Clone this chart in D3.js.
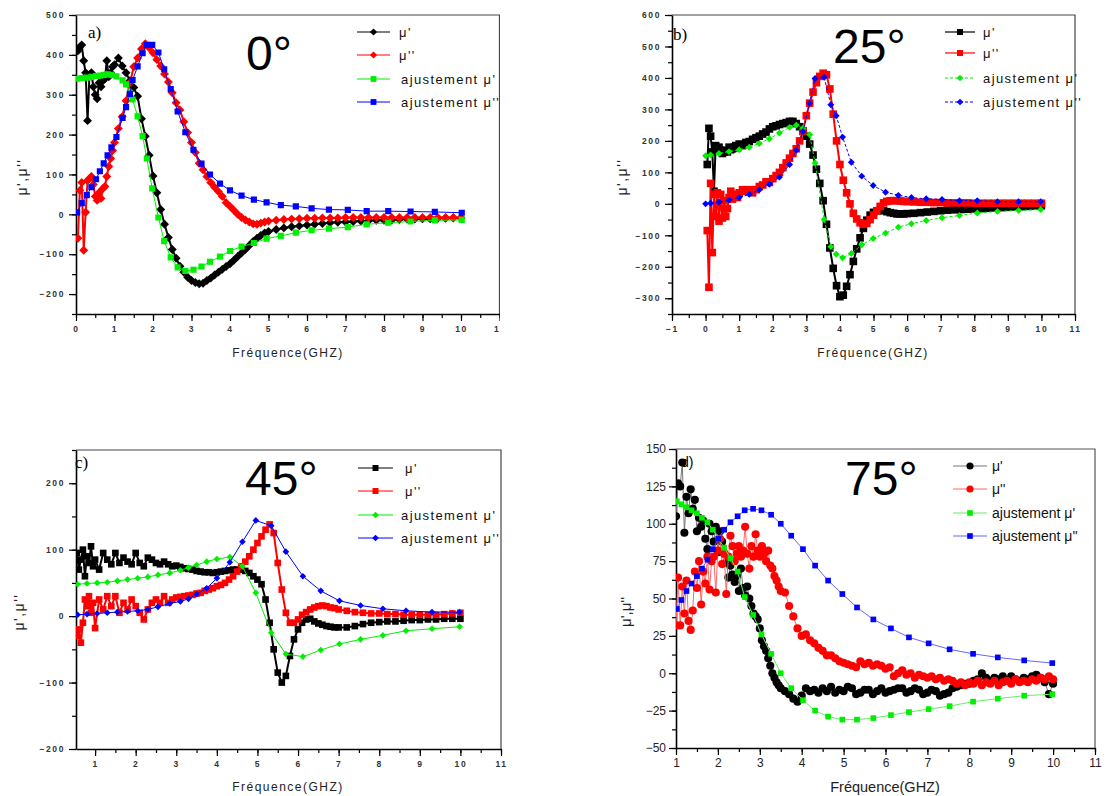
<!DOCTYPE html>
<html><head><meta charset="utf-8">
<script src="https://cdn.jsdelivr.net/npm/d3@7"></script>
<style>body{margin:0;background:#fff}</style>
</head><body>
<svg id="c" width="1110" height="796"></svg>
<script>
// ---------- DATA ----------
// Panel a) 0°
const aExpFreq = [0.05,0.1,0.15,0.2,0.25,0.3,0.35,0.4,0.45,0.5,0.55,0.6,0.65,0.7,0.75,0.8,0.85,0.9,0.95,1.0,
1.1,1.2,1.3,1.4,1.5,1.6,1.7,1.8,1.9,2.0,2.1,2.2,2.3,2.4,2.5,2.6,2.7,2.8,2.9,3.0,3.1,3.2,3.3,3.4,3.5,3.6,3.7,3.8,3.9,4.0,4.1,4.2,4.3,4.4,4.5,4.6,4.7,4.8,4.9,5.0,
5.2,5.4,5.6,5.8,6.0,6.2,6.4,6.6,6.8,7.0,7.2,7.4,7.6,7.8,8.0,8.2,8.4,8.6,8.8,9.0,9.2,9.4,9.6,9.8,10.0];
const aMu1 = [410,420,425,385,355,235,350,355,320,300,290,330,320,335,340,385,345,355,370,375,
392,372,355,335,318,296,240,196,148,96,54,12,-25,-58,-88,-110,-130,-145,-158,-166,-171,-174,-173,-166,-160,-152,-145,-138,-131,-124,-115,-106,-97,-88,-78,-68,-60,-53,-47,-43,
-38,-34,-31,-29,-27,-25,-23,-21,-20,-19,-18,-17,-16,-15,-15,-14,-13,-12,-12,-11,-11,-10,-10,-9,-9];
const aMu2 = [-60,60,80,-90,5,85,90,95,75,45,35,55,40,65,70,95,120,140,160,180,
215,245,285,330,370,392,415,428,418,405,388,372,352,332,305,280,262,232,205,180,155,128,112,95,80,68,57,45,29,20,10,0,-8,-14,-19,-24,-25,-22,-19,-17,
-15,-13,-12,-11,-10,-10,-9,-9,-9,-8,-8,-8,-8,-8,-8,-8,-8,-8,-8,-8,-8,-8,-8,-8,-8];
const aFitFreq = [0.03,0.15,0.28,0.40,0.52,0.62,0.72,0.82,0.92,1.05,1.21,1.30,1.40,1.47,1.60,1.73,1.84,1.98,2.14,2.29,2.46,2.64,2.84,3.05,3.26,3.48,3.74,4.00,4.30,4.62,4.95,5.32,5.71,6.12,6.57,7.06,7.55,8.11,8.69,9.32,10.02];
const aFit1 = [340,342,343,345,347,348,350,351,350,346,336,326,305,288,246,196,140,65,-8,-67,-108,-133,-142,-139,-131,-119,-106,-92,-81,-72,-61,-54,-46,-40,-36,-32,-25,-21,-18,-15,-14];
const aFit2 = [5,28,48,68,88,108,128,148,168,194,242,269,302,337,371,404,425,425,406,364,314,258,206,162,127,100,77,60,47,37,30,23,20,15,12,11,8,8,7,6,4];
const aXTicks = [0,1,2,3,4,5,6,7,8,9,10,11];
const aYTicks = [-200,-100,0,100,200,300,400,500];

// Panel b) 25°
const bExpFreq = [0.05,0.1,0.15,0.2,0.25,0.3,0.35,0.4,0.45,0.5,0.55,0.6,0.65,0.7,0.75,0.8,0.85,0.9,0.95,1.0,
1.1,1.2,1.3,1.4,1.5,1.6,1.7,1.8,1.9,2.0,2.1,2.2,2.3,2.4,2.5,2.6,2.7,2.8,2.9,3.0,3.1,3.2,3.3,3.4,3.5,3.6,3.7,3.8,3.9,4.0,
4.1,4.2,4.3,4.4,4.5,4.6,4.7,4.8,4.9,5.0,5.1,5.2,5.3,5.4,5.5,5.6,5.7,5.8,5.9,6.0,
6.2,6.4,6.6,6.8,7.0,7.2,7.4,7.6,7.8,8.0,8.2,8.4,8.6,8.8,9.0,9.2,9.4,9.6,9.8,10.0];
const bMu1 = [125,240,215,165,40,185,175,180,170,160,165,170,165,180,172,175,180,185,178,190,
185,195,198,205,210,215,222,228,238,245,248,252,255,258,262,262,255,245,232,215,190,155,110,65,10,-65,-140,-205,-260,-295,
-290,-262,-225,-183,-143,-108,-78,-52,-36,-27,-22,-20,-22,-25,-28,-30,-32,-32,-32,-31,
-30,-28,-26,-24,-22,-20,-19,-18,-17,-16,-15,-14,-13,-12,-11,-10,-9,-8,-7,-6];
const bMu2 = [-85,-265,65,-155,30,-40,35,-55,30,-45,10,-40,-15,20,40,15,25,30,20,35,
45,40,45,35,45,55,60,70,68,80,90,100,115,130,145,160,175,200,230,280,320,355,385,405,415,410,365,285,200,125,
75,35,0,-30,-48,-60,-65,-62,-50,-36,-22,-8,3,8,10,10,10,9,8,7,
6,5,5,4,4,3,3,3,3,2,2,2,2,2,2,2,2,2,2,2];
const bFitFreq = [0,0.15,0.4,0.7,1.0,1.3,1.6,1.9,2.2,2.5,2.7,2.9,3.1,3.26,3.53,3.73,3.89,4.08,4.34,4.65,4.99,5.36,5.74,6.13,6.57,7.04,7.56,8.09,8.69,9.32,9.98];
const bFit1 = [153,155,160,166,172,180,192,207,225,243,250,240,220,130,-50,-136,-160,-171,-158,-130,-110,-93,-74,-63,-53,-44,-37,-29,-24,-21,-18];
const bFit2 = [0,2,6,12,20,30,45,62,85,125,170,230,320,398,402,315,280,212,132,88,58,37,27,20,16,14,10,10,7,7,7];
const bXTicks = [-1,0,1,2,3,4,5,6,7,8,9,10,11];
const bYTicks = [-300,-200,-100,0,100,200,300,400,500,600];

// Panel c) 45°
const cExpFreq = [0.55,0.6,0.65,0.7,0.75,0.8,0.85,0.9,0.95,1.0,
1.1,1.2,1.3,1.4,1.5,1.6,1.7,1.8,1.9,2.0,2.1,2.2,2.3,2.4,2.5,2.6,2.7,2.8,2.9,3.0,3.1,3.2,3.3,3.4,3.5,3.6,3.7,3.8,3.9,4.0,
4.1,4.2,4.3,4.4,4.5,4.6,4.7,4.8,4.9,5.0,5.1,5.2,5.3,5.4,5.5,5.6,5.7,5.8,5.9,6.0,6.1,6.2,6.3,6.4,6.5,6.6,6.7,6.8,6.9,7.0,
7.2,7.4,7.6,7.8,8.0,8.2,8.4,8.6,8.8,9.0,9.2,9.4,9.6,9.8,10.0];
const cMu1 = [95,70,85,100,60,90,80,105,75,85,
70,95,85,78,95,80,88,82,78,95,80,75,88,85,80,78,82,78,75,76,74,72,71,70,68,67,66,66,65,66,
67,68,69,70,70,70,68,65,60,55,48,25,-10,-50,-85,-100,-90,-60,-35,-20,-10,-5,-4,-8,-11,-13,-15,-16,-17,-17,
-17,-15,-12,-10,-9,-8,-8,-7,-6,-6,-5,-5,-4,-4,-4];
const cMu2 = [-30,-20,-40,-10,25,15,30,5,20,-18,
25,10,30,15,30,5,20,10,25,15,5,-5,10,20,25,20,30,20,25,28,29,30,31,32,34,35,38,40,42,45,
47,50,55,60,67,75,82,90,100,110,120,130,138,125,80,40,5,-10,-10,-5,2,6,10,13,15,16,15,13,12,10,
8,6,5,4,4,3,3,2,2,2,2,2,3,4,5];
const cFitFreq = [0.57,0.8,1.05,1.3,1.55,1.8,2.05,2.3,2.55,2.84,3.1,3.3,3.5,3.75,4.0,4.32,4.63,4.96,5.34,5.70,6.12,6.56,7.02,7.54,8.09,8.66,9.3,9.98];
const cFit1 = [48,49,50,51,53,55,57,59,62,65,69,73,77,82,86,89,75,35,-25,-57,-61,-51,-42,-35,-29,-22,-19,-16];
const cFit2 = [2,3,4,5,6,7,8,10,14,19,22,26,33,42,57,81,112,144,136,97,60,38,23,16,11,8,6,6];
const cXTicks = [1,2,3,4,5,6,7,8,9,10,11];
const cYTicks = [-200,-100,0,100,200];

// Panel d) 75°
const dExpFreq = [1.0,1.05,1.1,1.15,1.2,1.25,1.3,1.35,1.4,1.45,1.5,1.55,1.6,1.65,1.7,1.75,1.8,1.85,1.9,1.95,
2.0,2.05,2.1,2.15,2.2,2.25,2.3,2.35,2.4,2.45,2.5,2.55,2.6,2.65,2.7,2.75,2.8,2.85,2.9,2.95,3.0,3.05,3.1,3.15,3.2,3.25,3.3,3.35,3.4,3.45,3.5,
3.6,3.7,3.8,3.9,4.0,4.1,4.2,4.3,4.4,4.5,4.6,4.7,4.8,4.9,5.0,5.1,5.2,5.3,5.4,5.5,5.6,5.7,5.8,5.9,6.0,6.1,6.2,6.3,6.4,6.5,6.6,6.7,6.8,6.9,
7.0,7.1,7.2,7.3,7.4,7.5,7.6,7.7,7.8,7.9,8.0,8.1,8.2,8.3,8.4,8.5,8.6,8.7,8.8,8.9,9.0,9.1,9.2,9.3,9.4,9.5,9.6,9.7,9.8,9.9,10.0];
const dMu1 = [105,127,125,141,94,118,107,123,110,116,95,104,98,102,90,83,100,95,88,98,
81,95,88,80,74,64,72,66,61,65,55,70,57,52,58,50,45,40,38,36,30,22,18,15,10,5,0,-3,-6,-8,-10,
-12,-14,-17,-19,-15,-10,-12,-11,-13,-10,-12,-9,-13,-11,-12,-9,-10,-14,-13,-11,-11,-14,-12,-10,-13,-12,-11,-10,-10,-13,-12,-10,-11,-14,
-13,-11,-12,-15,-14,-13,-10,-9,-8,-7,-7,-5,-4,0,-3,-5,-3,-4,-2,-5,-2,-4,-5,-3,-4,-2,-1,-3,-6,-14,-7];
const dMu2 = [32,64,32,58,40,62,35,29,42,68,57,75,46,68,60,78,56,75,78,54,
82,90,73,80,53,78,92,85,75,80,85,78,82,98,80,70,85,78,93,82,78,85,80,75,82,72,70,65,62,58,55,
54,45,38,30,25,26,22,20,17,15,12,12,10,8,7,6,5,4,8,6,7,5,6,5,3,4,-2,0,2,-1,0,-3,-1,-2,
-3,-2,-4,-3,-5,-4,-5,-7,-6,-8,-6,-7,-5,-8,-6,-7,-5,-8,-6,-5,-7,-4,-6,-5,-6,-4,-5,-3,-4,-2,-4];
const dFitFreq = [1.02,1.13,1.25,1.37,1.50,1.62,1.75,1.88,2.01,2.15,2.30,2.47,2.64,2.84,3.04,3.27,3.50,3.75,4.03,4.32,4.63,4.97,5.32,5.71,6.13,6.56,7.03,7.53,8.09,8.68,9.31,9.98];
const dFit1 = [115,113,111,109,107,104,101,96,90,84,77,68,51,39,26,13,0,-10,-18,-25,-29,-31,-31,-30,-28,-26,-24,-22,-19,-17,-15,-14];
const dFit2 = [43,49,55,60,65,70,76,83,90,96,101,105,109,110,109,106,100,92,83,72,62,53,44,36,30,24,20,16,13,10.6,8.6,6.8];
const dXTicks = [1,2,3,4,5,6,7,8,9,10,11];
const dYTicks = [-50,-25,0,25,50,75,100,125,150];

const legendLabels = ["\u03bc'", "\u03bc''", "ajustement \u03bc'", "ajustement \u03bc''"];
const xTitle = "Fréquence(GHZ)";
const yTitle = "\u03bc',\u03bc''";

// ---------- DRAW ----------
const svg = d3.select('#c');
const SANS = "'Liberation Sans', Arial, sans-serif";
const SERIF = "'Liberation Serif', 'Times New Roman', serif";
const zip = (a,b) => a.map((v,i)=>[v,b[i]]);

const COLORS = {k:'#000000', r:'#ff0000', g:'#00ee00', b:'#0000ff'};

function symPath(type, size){
  if(type==='circle') return d3.symbol().type(d3.symbolCircle).size(size)();
  return d3.symbol().type(d3.symbolSquare).size(size)();
}

const panels = [
 {id:'a', L:76, R:499.5, T:15, B:314, xDom:[0,11], yDom:[-250,500], xTicks:aXTicks, yTicks:aYTicks,
  xMinorStep:0.5, yMinorStep:50, old:true, clipW:500,
  series:[
   {xs:aExpFreq, ys:aMu1, c:COLORS.k, lc:'#000', m:'diamond', s:40, lw:2},
   {xs:aExpFreq, ys:aMu2, c:COLORS.r, lc:'#f00', m:'diamond', s:40, lw:2},
   {xs:aFitFreq, ys:aFit1, c:COLORS.g, lc:'#00ee00', m:'square', s:38},
   {xs:aFitFreq, ys:aFit2, c:COLORS.b, lc:'#0000ff', m:'square', s:38}],
  leg:{x1:357, x2:390, tx:[399,399,401,401], rows:[32,55,79,102], fs:13, ls:1.4, ms:[26,26,34,34]},
  tag:{t:'a)', x:88, y:38, fs:17, font:SERIF},
  big:{t:'0°', x:246, y:70},
  xt:{x:288, y:357}, yt:{x:22, y:177}},
 {id:'b', L:672, R:1075, T:15, B:314, xDom:[-1,11], yDom:[-350,600], xTicks:bXTicks, yTicks:bYTicks,
  xMinorStep:0.5, yMinorStep:50, old:true,
  series:[
   {xs:bExpFreq, ys:bMu1, c:COLORS.k, lc:'#000', m:'square', s:58, lw:2},
   {xs:bExpFreq, ys:bMu2, c:COLORS.r, lc:'#f00', m:'square', s:58, lw:2},
   {xs:bFitFreq, ys:bFit1, c:COLORS.g, lc:'#00ee00', m:'diamond', s:24, dash:'3,2'},
   {xs:bFitFreq, ys:bFit2, c:COLORS.b, lc:'#0000ff', m:'diamond', s:24, dash:'3,2'}],
  leg:{x1:945, x2:975, tx:[983,983,983,983], rows:[32,53,78,102], fs:13, ls:1.4, ms:[36,36,22,22]},
  tag:{t:'b)', x:673, y:40, fs:17, font:SERIF},
  big:{t:'25°', x:833, y:63},
  xt:{x:873, y:357}, yt:{x:622, y:177}},
 {id:'c', L:76, R:501, T:450, B:749, xDom:[0.53,11], yDom:[-200,250], xTicks:cXTicks, yTicks:cYTicks,
  xMinorStep:0.5, yMinorStep:50, old:true,
  series:[
   {xs:cExpFreq, ys:cMu1, c:COLORS.k, lc:'#000', m:'square', s:44, lw:2},
   {xs:cExpFreq, ys:cMu2, c:COLORS.r, lc:'#f00', m:'square', s:44, lw:2},
   {xs:cFitFreq, ys:cFit1, c:COLORS.g, lc:'#00ee00', m:'diamond', s:22},
   {xs:cFitFreq, ys:cFit2, c:COLORS.b, lc:'#0000ff', m:'diamond', s:22}],
  leg:{x1:358, x2:393, tx:[405,405,401,401], rows:[468,491,515,538], fs:13, ls:1.4, ms:[36,36,22,22]},
  tag:{t:'c)', x:75, y:468, fs:17, font:SERIF},
  big:{t:'45°', x:245, y:495},
  xt:{x:288, y:791}, yt:{x:19, y:612}},
 {id:'d', L:676, R:1095, T:449, B:748, xDom:[1,11], yDom:[-50,150], xTicks:dXTicks, yTicks:dYTicks,
  xMinorStep:0.5, yMinorStep:12.5, old:false,
  series:[
   {xs:dExpFreq, ys:dMu1, c:COLORS.k, lc:'#777', m:'circle', s:52, lw:1},
   {xs:dExpFreq, ys:dMu2, c:COLORS.r, lc:'#f66', m:'circle', s:52, lw:1},
   {xs:dFitFreq, ys:dFit1, c:COLORS.g, lc:'#66ee66', m:'square', s:32},
   {xs:dFitFreq, ys:dFit2, c:COLORS.b, lc:'#6666ff', m:'square', s:32}],
  leg:{x1:953, x2:987, tx:[992,992,992,992], rows:[466,489,513,536], fs:14, ls:0, ms:[40,40,32,32]},
  tag:{t:'d)', x:681, y:467, fs:14, font:SANS},
  big:{t:'75°', x:845, y:495},
  xt:{x:885, y:792}, yt:{x:626, y:612}}
];

panels.forEach(p => {
  let root = svg.append('g');
  if (p.clipW) {
    svg.append('clipPath').attr('id','pc'+p.id).append('rect').attr('x',0).attr('y',0).attr('width',p.clipW).attr('height',400);
    root.attr('clip-path','url(#pc'+p.id+')');
  }
  const x = d3.scaleLinear().domain(p.xDom).range([p.L, p.R]);
  const y = d3.scaleLinear().domain(p.yDom).range([p.B, p.T]);

  root.append('path').attr('d',`M${p.L},${p.T}H${p.R}V${p.B}`).attr('fill','none')
    .attr('stroke', p.old ? '#444' : '#555').attr('stroke-width',1.2);

  const tickFont = p.old ? {fs:8.5, fw:'bold', ls:1.6, fill:'#333'} : {fs:12, fw:'normal', ls:0, fill:'#222'};

  const xMinor = d3.range(Math.ceil(p.xDom[0]/p.xMinorStep)*p.xMinorStep, p.xDom[1]+1e-9, p.xMinorStep);
  const yMinor = d3.range(Math.ceil(p.yDom[0]/p.yMinorStep)*p.yMinorStep, p.yDom[1]+1e-9, p.yMinorStep);
  root.append('g').attr('transform',`translate(0,${p.B})`)
    .call(d3.axisBottom(x).tickValues(xMinor).tickSize(4).tickSizeOuter(0).tickFormat(''))
    .call(g=>g.select('.domain').remove())
    .call(g=>g.selectAll('line').attr('stroke','#000').attr('stroke-width',1.2));
  root.append('g').attr('transform',`translate(${p.L},0)`)
    .call(d3.axisLeft(y).tickValues(yMinor).tickSize(4).tickSizeOuter(0).tickFormat(''))
    .call(g=>g.select('.domain').remove())
    .call(g=>g.selectAll('line').attr('stroke','#000').attr('stroke-width',1.2));

  const xa = root.append('g').attr('transform',`translate(0,${p.B})`)
    .call(d3.axisBottom(x).tickValues(p.xTicks).tickSize(7).tickSizeOuter(0).tickPadding(p.old?5:3).tickFormat(d3.format('d')));
  const ya = root.append('g').attr('transform',`translate(${p.L},0)`)
    .call(d3.axisLeft(y).tickValues(p.yTicks).tickSize(7).tickSizeOuter(0).tickPadding(p.old?4:3).tickFormat(d3.format('d')));
  [xa,ya].forEach(a=>{
    a.select('.domain').attr('stroke','#000').attr('stroke-width',1.6);
    a.selectAll('line').attr('stroke','#000').attr('stroke-width',1.2);
    a.selectAll('text').attr('font-family',SANS).attr('font-size',tickFont.fs).attr('font-weight',tickFont.fw)
      .attr('letter-spacing',tickFont.ls).attr('fill',tickFont.fill);
  });

  const cid = 'clip'+p.id;
  svg.append('clipPath').attr('id',cid).append('rect').attr('x',p.L).attr('y',p.T).attr('width',p.R-p.L).attr('height',p.B-p.T);
  const plot = root.append('g').attr('clip-path',`url(#${cid})`);
  const line = d3.line().x(d=>x(d[0])).y(d=>y(d[1]));
  p.series.forEach(s => {
    const pts = zip(s.xs, s.ys);
    plot.append('path').datum(pts).attr('d',line).attr('fill','none').attr('stroke',s.lc)
      .attr('stroke-width',s.lw||1).attr('stroke-dasharray', s.dash || null);
    const path = symPath(s.m, s.s);
    const rot = s.m==='diamond' ? 45 : 0;
    plot.selectAll(null).data(pts).join('path').attr('d',path)
      .attr('transform',d=>`translate(${x(d[0])},${y(d[1])}) rotate(${rot})`)
      .attr('fill',s.c);
  });

  const lg = root.append('g');
  p.series.forEach((s,i)=>{
    const yy = p.leg.rows[i];
    lg.append('line').attr('x1',p.leg.x1).attr('x2',p.leg.x2).attr('y1',yy).attr('y2',yy)
      .attr('stroke',s.lc).attr('stroke-width',1.2).attr('stroke-dasharray', s.dash || null);
    lg.append('path').attr('d',symPath(s.m, p.leg.ms[i]))
      .attr('transform',`translate(${(p.leg.x1+p.leg.x2)/2},${yy}) rotate(${s.m==='diamond'?45:0})`).attr('fill',s.c);
    lg.append('text').attr('x',p.leg.tx[i]).attr('y',yy+5).text(legendLabels[i])
      .attr('font-family',SANS).attr('font-size',p.leg.fs).attr('letter-spacing',p.leg.ls).attr('fill','#111');
  });

  root.append('text').attr('x',p.tag.x).attr('y',p.tag.y).text(p.tag.t)
    .attr('font-family',p.tag.font).attr('font-size',p.tag.fs).attr('fill','#000');
  root.append('text').attr('x',p.big.x).attr('y',p.big.y).text(p.big.t)
    .attr('font-family',SANS).attr('font-size',48).attr('fill','#000');
  root.append('text').attr('x',p.xt.x).attr('y',p.xt.y).attr('text-anchor','middle').text(xTitle)
    .attr('font-family',SANS).attr('font-size',p.old?12:14.5).attr('letter-spacing',p.old?1.5:0).attr('fill','#222');
  root.append('text').attr('transform',`translate(${p.yt.x+5},${p.yt.y}) rotate(-90)`).attr('text-anchor','middle')
    .text(yTitle).attr('font-family',SANS).attr('font-size',p.old?14:15).attr('letter-spacing',p.old?1.5:0).attr('fill','#222');
});
</script>
</body></html>
